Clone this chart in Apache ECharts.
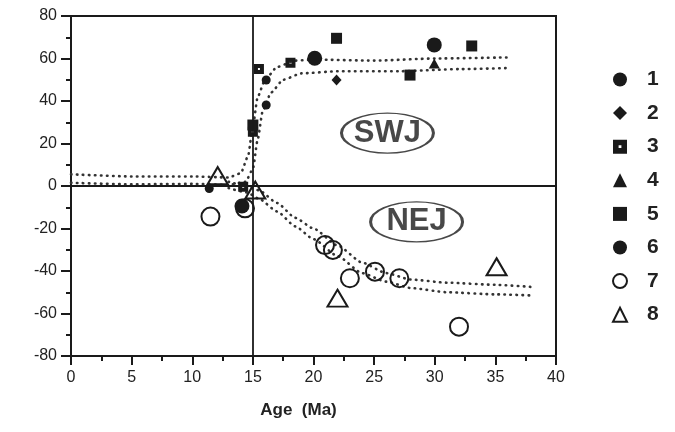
<!DOCTYPE html>
<html>
<head>
<meta charset="utf-8">
<script src="https://cdn.jsdelivr.net/npm/echarts@6/dist/echarts.min.js"></script>
<style>
	html, body { margin: 0; padding: 0; background: #fff; }
	#main { width: 675px; height: 432px; }
</style>
</head>
<body>
<div id="main"></div>
<script>
// 数据点 [age (Ma), value]
const s1 = [[16.1, 49.9], [16.1, 38.1], [11.4, -1.2]];
const s2 = [[21.9, 49.9]];
const s3 = [[15.5, 55.1], [18.1, 58.0], [15.0, 25.5], [14.2, -0.3]];
const s4 = [[29.96, 57.7]];
const s5 = [[21.9, 69.5], [15.0, 28.7], [27.96, 52.2], [33.05, 65.9]];
const s6 = [[20.1, 60.1], [29.96, 66.4], [14.1, -9.4]];
const s7 = [[11.5, -14.4], [14.35, -10.5], [20.95, -27.8], [21.6, -30.1], [23.0, -43.4], [25.07, -40.3], [27.08, -43.4], [32.0, -66.2]];
const s8 = [[12.1, 4.9], [15.2, -1.9], [21.98, -52.8], [35.1, -38.0]];

// 点状条带 (上下边缘)
const swjUpper = [[0, 5.5], [5, 4.5], [10, 4.5], [13, 4], [14, 6], [14.6, 14], [15.0, 28], [15.4, 42], [16, 50], [17, 56], [18.5, 59], [20, 59.5], [25, 59], [30, 60], [36, 60.5]];
const swjLower = [[0, 1.5], [5, 0.8], [10, 1], [13, 0.5], [14.4, 2], [15.0, 8], [15.4, 22], [15.8, 35], [16.5, 44], [17.5, 50], [19, 53], [22, 54], [27, 54], [32, 55], [36, 55.5]];
const nejUpper = [[13, 2], [14.5, 0], [15.5, -2], [17, -8], [18.5, -15], [20, -20], [22, -28], [24, -36], [26, -41], [28, -44], [31, -45.5], [35, -46.5], [38, -47.5]];
const nejLower = [[13, -1], [14.5, -3], [15.5, -6], [17, -12], [18.5, -19], [20, -25], [22, -33], [24, -41], [26, -45], [28, -48], [31, -50], [35, -51], [38, -51.5]];

const regionLabels = [{ name: 'SWJ', value: [26.1, 24.9] }, { name: 'NEJ', value: [28.5, -16.9] }];

const black = '#1a1a1a';
const font = 'Liberation Sans, Arial, sans-serif';

let chart = echarts.init(document.getElementById('main'));

function band(data) {
	return {
		type: 'line',
		data: data,
		smooth: 0.2,
		smoothMonotone: 'x',
		showSymbol: false,
		silent: true,
		z: 1,
		lineStyle: { color: '#333', width: 2.6, type: [0.5, 5.5], cap: 'round' },
	};
}

function pts(name, data, symbol, size, style) {
	return {
		name: name,
		type: 'scatter',
		data: data,
		symbol: symbol,
		symbolSize: size,
		z: 3,
		itemStyle: Object.assign({ color: black, opacity: 1 }, style || {}),
	};
}

const hollow = { color: 'rgba(255,255,255,0)', borderColor: black, borderWidth: 2 };

let option = {
	animation: false,
	grid: { left: 71, right: 119, top: 16, bottom: 76, show: true, borderColor: black, borderWidth: 2 },
	legend: {
		orient: 'vertical',
		left: 607,
		top: 64,
		itemWidth: 14,
		itemHeight: 14,
		itemGap: 12.6,
		data: ['1', '2', '3', '4', '5', '6', '7', '8'],
		textStyle: { fontFamily: font, fontSize: 21, fontWeight: 'bold', color: '#222', lineHeight: 20, padding: [0, 0, 0, 15] },
	},
	xAxis: {
		type: 'value',
		min: 0,
		max: 40,
		interval: 5,
		name: 'Age  (Ma)',
		nameLocation: 'middle',
		nameGap: 46,
		nameTextStyle: { fontFamily: font, fontSize: 17, fontWeight: 'bold', color: '#222', padding: [0, 30, 0, 0] },
		axisLine: { show: true, onZero: false, lineStyle: { color: black, width: 2 } },
		axisTick: { show: true, length: 9, lineStyle: { color: black, width: 2 } },
		minorTick: { show: true, splitNumber: 2, length: 5, lineStyle: { color: black, width: 2 } },
		axisLabel: { fontFamily: font, fontSize: 16, color: '#222', margin: 14 },
		splitLine: { show: false },
	},
	yAxis: {
		type: 'value',
		min: -80,
		max: 80,
		interval: 20,
		axisLine: { show: true, onZero: false, lineStyle: { color: black, width: 2 } },
		axisTick: { show: true, length: 10, lineStyle: { color: black, width: 2 } },
		minorTick: { show: true, splitNumber: 2, length: 5, lineStyle: { color: black, width: 2 } },
		axisLabel: { fontFamily: font, fontSize: 16, color: '#222', margin: 14 },
		splitLine: { show: false },
	},
	series: [
		Object.assign(band(swjUpper), {
			markLine: {
				silent: true,
				symbol: 'none',
				label: { show: false },
				lineStyle: { color: black, width: 1.8, type: 'solid' },
				data: [{ xAxis: 15 }, { yAxis: 0 }],
			},
		}),
		band(swjLower),
		band(nejUpper),
		band(nejLower),
		pts('1', s1, 'circle', 9),
		pts('2', s2, 'diamond', [10, 11]),
		pts('3', s3, 'path://M0,0L10,0L10,10L0,10Z M4,4L4,6L6,6L6,4Z', 10),
		pts('4', s4, 'triangle', [11, 10]),
		pts('5', s5, 'rect', 11),
		pts('6', s6, 'circle', 15),
		pts('7', s7, 'circle', 18, hollow),
		pts('8', s8, 'triangle', [20, 17], hollow),
		{
			type: 'scatter',
			data: regionLabels,
			symbol: 'circle',
			symbolSize: [92, 40],
			silent: true,
			z: 2,
			itemStyle: { color: '#fff', borderColor: black, borderWidth: 2 },
			label: {
				show: true,
				position: 'inside',
				formatter: '{b}',
				fontFamily: font,
				fontSize: 31,
				fontWeight: 'bold',
				color: '#1a1a1a',
			},
		},
	],
};

chart.setOption(option);
</script>
</body>
</html>
